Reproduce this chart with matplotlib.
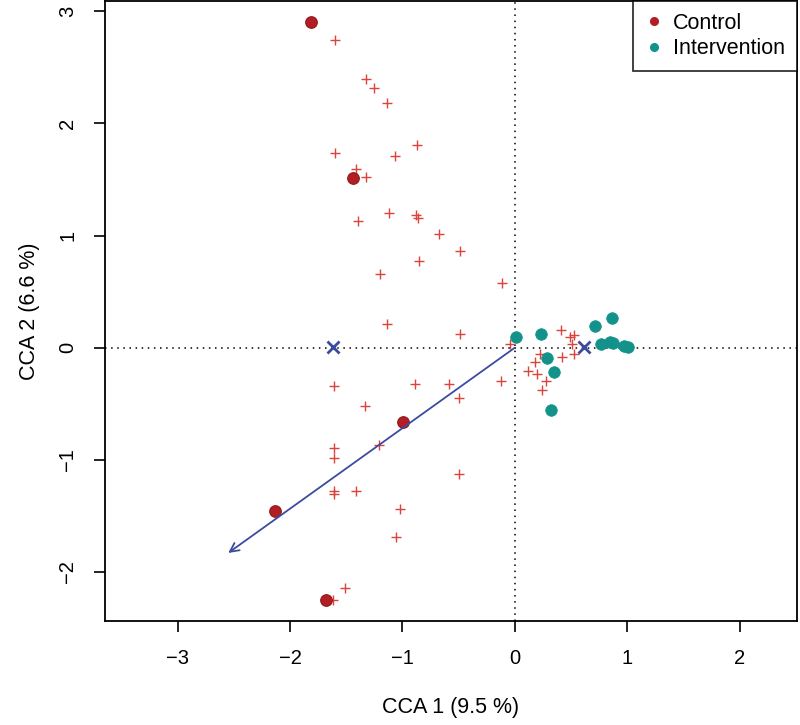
import matplotlib
matplotlib.use('Agg')
import matplotlib.pyplot as plt
from matplotlib.lines import Line2D

plt.rcParams['font.family'] = ['Liberation Sans', 'DejaVu Sans']

# site scores (CCA 1, CCA 2)
control_x = [-1.81, -1.444, -0.996, -2.13, -1.684]
control_y = [2.90, 1.51, -0.664, -1.455, -2.25]

interv_x = [0.015, 0.231, 0.282, 0.347, 0.318, 0.712, 0.863, 0.768, 0.851, 0.875, 0.970, 1.008]
interv_y = [0.092, 0.122, -0.096, -0.217, -0.554, 0.196, 0.262, 0.033, 0.054, 0.042, 0.012, 0.003]

# species scores
species_x = [-1.60, -1.326, -1.257, -1.139, -0.869, -1.604, -1.068, -1.412, -1.326,
             -1.118, -0.881, -0.86, -1.394, -0.673, -0.489, -0.851, -1.198, -0.118,
             -1.139, -0.489, -0.04, -1.61, -0.884, -0.587, -0.123, -0.496, -1.329,
             -1.21, -1.61, -1.61, -0.496, -1.61, -1.61, -1.415, -1.02, -1.056,
             -1.512, -1.617,
             0.415, 0.495, 0.53, 0.51, 0.222, 0.178, 0.42, 0.53, 0.113, 0.199,
             0.276, 0.246]
species_y = [2.74, 2.40, 2.32, 2.18, 1.81, 1.74, 1.71, 1.59, 1.52,
             1.20, 1.18, 1.16, 1.13, 1.01, 0.866, 0.774, 0.654, 0.58,
             0.214, 0.122, 0.033, -0.345, -0.321, -0.321, -0.296, -0.444, -0.518,
             -0.863, -0.893, -0.979, -1.122, -1.277, -1.306, -1.277, -1.4375, -1.685,
             -2.14, -2.25,
             0.158, 0.10, 0.116, 0.03, -0.056, -0.125, -0.087, -0.056, -0.205, -0.235,
             -0.295, -0.378]

# group centroids and treatment arrow
centroid_x = [-1.617, 0.617]
centroid_y = [0.003, 0.003]
arrow_end = (-2.55, -1.83)

RED = '#B31E24'
PLUS = '#D9443C'
TEAL = '#12928A'
BLUE = '#3B4C9E'

fig = plt.figure(figsize=(8, 7.25), dpi=100)
ax = fig.add_axes([0.131, 0.1434, 0.865, 0.855])

ax.axhline(0, color='black', lw=1.1, ls=(0, (1, 3)), zorder=1)
ax.axvline(0, color='black', lw=1.1, ls=(0, (1, 3)), zorder=1)

ax.scatter(species_x, species_y, marker='+', s=42, color=PLUS, linewidths=1.0, zorder=3)
ax.scatter(control_x, control_y, marker='o', s=70, color=RED, edgecolors='#8E1A1E',
           linewidths=0.8, zorder=4)
ax.scatter(interv_x, interv_y, marker='o', s=70, color=TEAL, edgecolors=TEAL,
           linewidths=0.5, zorder=4)

ax.annotate('', xy=arrow_end, xytext=(0, 0),
            arrowprops=dict(arrowstyle='->', color=BLUE, lw=1.3,
                            mutation_scale=16, shrinkA=0, shrinkB=0), zorder=5)
ax.scatter(centroid_x, centroid_y, marker='x', s=75, color=BLUE, linewidths=2.0, zorder=6)

ax.set_xlim(-3.648, 2.509)
ax.set_ylim(-2.437, 3.09)
ax.set_xticks([-3, -2, -1, 0, 1, 2])
ax.set_yticks([-2, -1, 0, 1, 2, 3])
ax.set_xticklabels(['\u22123', '\u22122', '\u22121', '0', '1', '2'])
ax.set_yticklabels(['\u22122', '\u22121', '0', '1', '2', '3'], rotation=90, va='center')
ax.tick_params(direction='out', length=8, width=1.2, labelsize=14.5, pad=12)
for sp in ax.spines.values():
    sp.set_linewidth(1.3)

ax.set_xlabel('CCA 1 (9.5 %)', fontsize=15.5, labelpad=21)
ax.set_ylabel('CCA 2 (6.6 %)', fontsize=15.5, labelpad=13)

handles = [Line2D([], [], marker='o', ls='', color=RED, markersize=5.5),
           Line2D([], [], marker='o', ls='', color=TEAL, markersize=5.5)]
leg = ax.legend(handles, ['Control', 'Intervention'], loc='upper right',
                borderaxespad=0, fontsize=15.5, frameon=True, fancybox=False,
                handlelength=0.8, handletextpad=0.5, borderpad=0.55, labelspacing=0.2)
leg.get_frame().set_edgecolor('black')
leg.get_frame().set_linewidth(1.3)
leg.set_zorder(10)

plt.savefig('out.png', dpi=100)
